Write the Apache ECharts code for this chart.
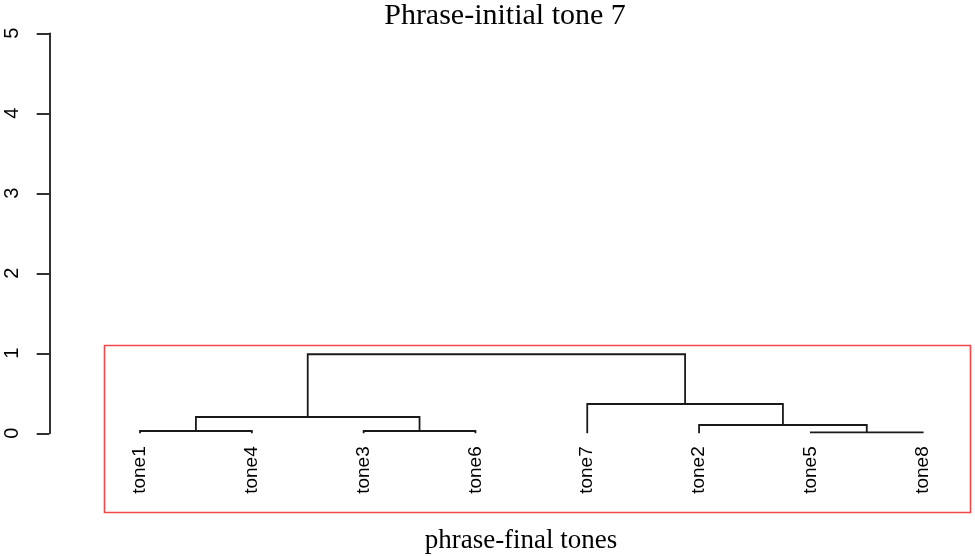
<!DOCTYPE html>
<html>
<head>
<meta charset="utf-8">
<title>Phrase-initial tone 7</title>
<script src="https://cdn.jsdelivr.net/npm/echarts@6/dist/echarts.min.js"></script>
<style>
  html, body { margin: 0; padding: 0; background: #fff; }
  #chart { width: 975px; height: 556px; }
</style>
</head>
<body>
<div id="chart"></div>
<script>
// leaf order along the x axis (positions 1..8)
const leaves = ['tone1', 'tone4', 'tone3', 'tone6', 'tone7', 'tone2', 'tone5', 'tone8']
// merge steps, R style: negative = leaf position, positive = earlier merge step
const mergeLeft = [-7, -1, -3, -6, 2, -5, 5]
const mergeRight = [-8, -2, -4, 1, 3, 4, 6]
const mergeHeight = [0.0125, 0.029, 0.029, 0.104, 0.204, 0.366, 0.988]
const yTicks = [0, 1, 2, 3, 4, 5]

// build links: [xLeft, hLeft, xRight, hRight, hMerge]
const nodeX = []
const links = []
const childPos = (id) => {
  if (id < 0) return [-id, 0]
  return [nodeX[id - 1], mergeHeight[id - 1]]
}
mergeHeight.forEach((h, i) => {
  const [xl, hl] = childPos(mergeLeft[i])
  const [xr, hr] = childPos(mergeRight[i])
  nodeX.push((xl + xr) / 2)
  links.push([xl, hl, xr, hr, h])
})

const chart = echarts.init(document.getElementById('chart'))
const sans = "'Liberation Sans', Arial, sans-serif"
const serif = "'Liberation Serif', 'Times New Roman', serif"

const option = {
  backgroundColor: '#fff',
  animation: false,
  grid: { left: 108.7, right: 21, top: 33.3, bottom: 122.7, containLabel: false },
  xAxis: {
    type: 'value',
    min: 0.72,
    max: 8.28,
    axisLine: { show: false },
    axisTick: { show: false },
    splitLine: { show: false },
    axisLabel: {
      customValues: [1, 2, 3, 4, 5, 6, 7, 8],
      formatter: (v) => leaves[Math.round(v) - 1] || '',
      rotate: 90,
      margin: 13,
      fontSize: 19,
      fontFamily: sans,
      color: '#000'
    }
  },
  yAxis: {
    type: 'value',
    min: 0,
    max: 5,
    interval: 1,
    offset: 59.4,
    axisLine: { show: true, lineStyle: { color: '#1a1a1a', width: 1.8 } },
    axisTick: { show: true, length: 12.6, lineStyle: { color: '#1a1a1a', width: 1.8 } },
    splitLine: { show: false },
    axisLabel: {
      customValues: yTicks,
      rotate: 90,
      margin: 27,
      fontSize: 20,
      fontFamily: sans,
      color: '#000'
    }
  },
  graphic: [
    {
      type: 'text',
      x: 505,
      y: 16,
      style: {
        text: 'Phrase-initial tone 7',
        textAlign: 'center',
        textVerticalAlign: 'middle',
        font: '30px ' + serif,
        fill: '#000'
      }
    },
    {
      type: 'text',
      x: 521,
      y: 541,
      style: {
        text: 'phrase-final tones',
        textAlign: 'center',
        textVerticalAlign: 'middle',
        font: '27px ' + serif,
        fill: '#000'
      }
    },
    {
      type: 'rect',
      shape: { x: 104.5, y: 345.5, width: 866, height: 167 },
      style: { fill: 'none', stroke: '#f04848', lineWidth: 1.6 },
      z: 10
    }
  ],
  series: [
    {
      type: 'custom',
      data: links,
      renderItem: (params, api) => {
        const xl = api.value(0), hl = api.value(1)
        const xr = api.value(2), hr = api.value(3)
        const h = api.value(4)
        const pts = [
          api.coord([xl, hl]),
          api.coord([xl, h]),
          api.coord([xr, h]),
          api.coord([xr, hr])
        ]
        return {
          type: 'polyline',
          shape: { points: pts },
          style: { stroke: '#1a1a1a', lineWidth: 1.8, fill: 'none' }
        }
      }
    }
  ]
}

chart.setOption(option)
window.addEventListener('resize', () => chart.resize())
</script>
</body>
</html>
